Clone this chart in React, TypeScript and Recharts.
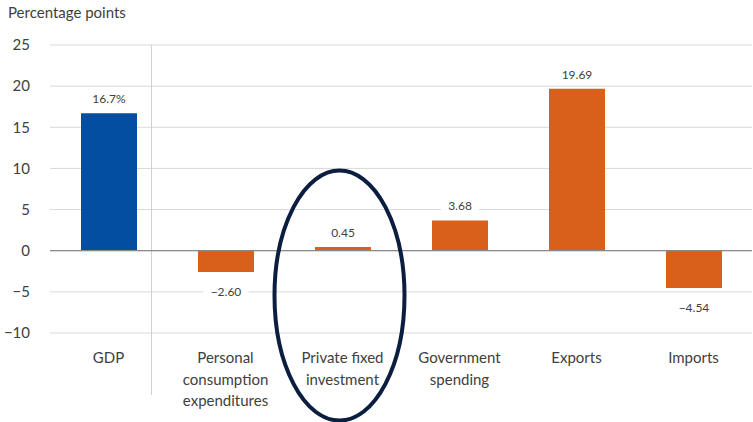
import React from 'react';
import { BarChart, Bar, XAxis, YAxis, CartesianGrid, ReferenceLine, ReferenceDot, LabelList, Cell } from 'recharts';

const categories = ['GDP', 'Personal consumption expenditures', 'Private fixed investment', 'Government spending', 'Exports', 'Imports'];
const categoryLines = [['GDP'], ['Personal', 'consumption', 'expenditures'], ['Private fixed', 'investment'], ['Government', 'spending'], ['Exports'], ['Imports']];
const values = [16.7, -2.6, 0.45, 3.68, 19.69, -4.54];
const yTicks = [-10, -5, 0, 5, 10, 15, 20, 25];
const highlightCategory = 'Private fixed investment';
const highlightY = -5.45;

const BLUE = '#034EA0';
const ORANGE = '#D8601A';
const TEXT = '#404040';
const FONT = 'Lato, "Open Sans", sans-serif';

const data = categories.map((c, i) => ({ name: c, value: values[i], idx: i }));

const CatTick = (props: any) => {
  const { x, y, payload } = props;
  const idx = categories.indexOf(payload.value);
  const lines = categoryLines[idx] || [payload.value];
  return (
    <text x={x} y={y} textAnchor="middle" fill={TEXT} fontSize={15} fontFamily={FONT}>
      {lines.map((l, i) => (
        <tspan key={i} x={x} dy={i === 0 ? 22 : 21.5}>{l}</tspan>
      ))}
    </text>
  );
};

const fmt = (v: number, i: number) => {
  if (i === 0) return v.toFixed(1) + '%';
  const s = Math.abs(v).toFixed(2);
  return v < 0 ? '\u2212' + s : s;
};

const ValueLabel = (props: any) => {
  const { x, y, width, height, value, index } = props;
  const top = Math.min(y, y + height);
  const bottom = Math.max(y, y + height);
  const cx = x + width / 2;
  const text = fmt(value, index);
  const ty = value >= 0 ? top - 10 : bottom + 24;
  const w = text.length * 7 + 10;
  return (
    <g>
      <rect x={cx - w / 2} y={ty - 12} width={w} height={16} fill="#fff" />
      <text x={cx} y={ty} textAnchor="middle" fill={TEXT} fontSize={12} fontFamily={FONT}>{text}</text>
    </g>
  );
};

const Ellipse = (props: any) => {
  const { cx, cy } = props;
  return <ellipse cx={cx - 3} cy={cy} rx={65} ry={125} fill="none" stroke="#0B1E3F" strokeWidth={4} />;
};

const Separator = (props: any) => {
  const { x1, y1, y2 } = props;
  const top = Math.min(y1, y2);
  const bottom = Math.max(y1, y2);
  const x = x1 - 15.5;
  return <line x1={x} y1={top} x2={x} y2={bottom + 62} stroke="#d0d0d0" strokeWidth={1} />;
};

export default function App() {
  return (
    <div style={{ position: 'absolute', left: 0, top: 0, width: 753, height: 422, background: '#fff' }}>
      <div style={{ position: 'absolute', left: 8, top: 3, fontFamily: FONT, fontSize: 15, color: TEXT }}>Percentage points</div>
      <BarChart width={753} height={422} data={data} margin={{ top: 45, right: 1, bottom: 0, left: 0 }} barSize={56}>
        <CartesianGrid vertical={false} stroke="#d9d9d9" />
        <XAxis dataKey="name" axisLine={false} tickLine={false} interval={0} height={89} tick={<CatTick />} />
        <YAxis domain={[-10, 25]} ticks={yTicks} width={50} axisLine={false} tickLine={false} tickSize={0} tickMargin={20}
          tick={{ fill: TEXT, fontSize: 15, fontFamily: FONT }}
          tickFormatter={(v: number) => (v < 0 ? '\u2212' + Math.abs(v) : String(v))} />
        <ReferenceLine x="GDP" position="end" shape={<Separator />} ifOverflow="visible" />
        <ReferenceLine y={0} stroke="#8a8a8a" strokeWidth={1.2} />
        <Bar dataKey="value" isAnimationActive={false}>
          {data.map((d, i) => (
            <Cell key={i} fill={i === 0 ? BLUE : ORANGE} />
          ))}
          <LabelList dataKey="value" content={<ValueLabel />} />
        </Bar>
        <ReferenceDot x={highlightCategory} y={highlightY} ifOverflow="visible" shape={<Ellipse />} />
      </BarChart>
    </div>
  );
}
